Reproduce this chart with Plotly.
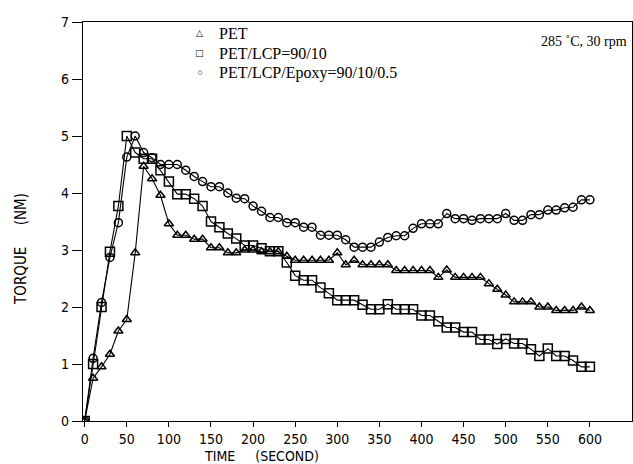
import plotly.graph_objects as go

time_s = list(range(0, 610, 10))

pet = [0, 0.75, 0.95, 1.17, 1.58, 1.78, 2.95, 4.47, 4.25, 3.96,
       3.46, 3.26, 3.26, 3.19, 3.19, 3.04, 3.04, 2.95, 2.95, 3.0,
       3.0, 2.97, 2.97, 2.97, 2.89, 2.82, 2.82, 2.82, 2.82, 2.82,
       2.95, 2.74, 2.82, 2.74, 2.74, 2.74, 2.74, 2.64, 2.64, 2.64,
       2.64, 2.64, 2.52, 2.65, 2.52, 2.52, 2.52, 2.52, 2.41, 2.31,
       2.21, 2.09, 2.09, 2.09, 2.0, 2.0, 1.94, 1.94, 1.94, 2.0, 1.94]

pet_lcp = [0, 1.0, 2.0, 2.97, 3.77, 5.0, 4.71, 4.6, 4.6, 4.4,
           4.2, 3.98, 3.98, 3.9, 3.77, 3.5, 3.4, 3.29, 3.2, 3.08,
           3.08, 3.03, 2.98, 2.98, 2.78, 2.55, 2.47, 2.47, 2.34, 2.24,
           2.12, 2.12, 2.12, 2.04, 1.96, 1.96, 2.05, 1.96, 1.96, 1.96,
           1.85, 1.85, 1.75, 1.64, 1.64, 1.56, 1.56, 1.43, 1.43, 1.35,
           1.44, 1.36, 1.36, 1.26, 1.14, 1.27, 1.14, 1.14, 1.06, 0.95, 0.95]

pet_lcp_epoxy = [0, 1.1, 2.08, 2.87, 3.48, 4.63, 5.0, 4.71, 4.62, 4.5,
                 4.5, 4.5, 4.4, 4.29, 4.2, 4.11, 4.11, 4.0, 3.91, 3.9,
                 3.77, 3.68, 3.57, 3.57, 3.48, 3.48, 3.4, 3.4, 3.26, 3.26,
                 3.26, 3.18, 3.05, 3.05, 3.05, 3.14, 3.22, 3.25, 3.25, 3.38,
                 3.46, 3.46, 3.46, 3.64, 3.55, 3.55, 3.52, 3.55, 3.55, 3.55,
                 3.64, 3.52, 3.52, 3.62, 3.62, 3.7, 3.7, 3.74, 3.75, 3.88, 3.88]

series_names = ["PET", "PET/LCP=90/10", "PET/LCP/Epoxy=90/10/0.5"]
legend_glyphs = ["\u25b3", "\u25a1", "\u25e6"]
legend_glyph_sizes = [9, 9, 14]
x_ticks = list(range(0, 650, 50))
y_ticks = list(range(0, 8))

cond = "DejaVu Sans Condensed, DejaVu Sans, sans-serif"
tick_font = dict(family=cond, size=14, color="black")
title_font = dict(family=cond, size=14, color="black")
serif = dict(family="Liberation Serif, serif", size=16, color="black")

fig = go.Figure()
styles = [
    (pet, "triangle-up-open", 8),
    (pet_lcp, "square-open", 9),
    (pet_lcp_epoxy, "circle-open", 8),
]
for (vals, sym, sz), name in zip(styles, series_names):
    fig.add_trace(go.Scatter(
        x=time_s, y=vals, mode="lines+markers", showlegend=False,
        line=dict(color="black", width=1.1),
        marker=dict(symbol=sym, size=sz, color="black", line=dict(width=1.5, color="black")),
        name=name))

# legend built from annotations (glyph + label), rows spaced like the reference
annotations = []
for i, (name, glyph, gs) in enumerate(zip(series_names, legend_glyphs, legend_glyph_sizes)):
    yp = 0.9724 - i * 0.0501
    annotations.append(dict(text=glyph, xref="paper", yref="paper", x=0.2131, y=yp,
                            xanchor="center", yanchor="middle", showarrow=False,
                            font=dict(family="DejaVu Sans, sans-serif", size=gs, color="#000000")))
    annotations.append(dict(text=name, xref="paper", yref="paper", x=0.2441, y=yp,
                            xanchor="left", yanchor="middle", showarrow=False, font=serif))

annotations += [
    dict(text="285 \u02daC, 30 rpm", xref="paper", yref="paper", x=0.995, y=0.95,
         xanchor="right", yanchor="middle", showarrow=False,
         font=dict(family="Liberation Serif, serif", size=14, color="black")),
    dict(text="TORQUE\u00a0\u00a0\u00a0\u00a0\u00a0(NM)", xref="paper", yref="paper",
         x=-0.112, xanchor="center", y=0.43, yanchor="middle", textangle=-90,
         showarrow=False, font=dict(family=cond, size=15, color="black")),
    dict(text="TIME\u00a0\u00a0\u00a0\u00a0\u00a0(SECOND)", xref="paper", yref="paper",
         x=0.325, xanchor="center", y=-0.0885, yanchor="middle",
         showarrow=False, font=title_font),
]

fig.update_layout(
    width=633, height=464,
    margin=dict(l=83, r=1, t=22, b=43),
    paper_bgcolor="white", plot_bgcolor="white",
    showlegend=False,
    xaxis=dict(range=[-2, 650], tickvals=x_ticks, ticks="outside", ticklen=5,
               tickwidth=1.3, tickcolor="black", showline=True, linecolor="black",
               linewidth=1.4, mirror=True, showgrid=False, zeroline=False,
               tickfont=tick_font),
    yaxis=dict(range=[0, 7], tickvals=y_ticks, ticks="outside", ticklen=10,
               tickwidth=1.3, tickcolor="black", showline=True, linecolor="black",
               linewidth=1.4, mirror=True, showgrid=False, zeroline=False,
               tickfont=tick_font),
    annotations=annotations,
)

fig.write_html("out.html")
